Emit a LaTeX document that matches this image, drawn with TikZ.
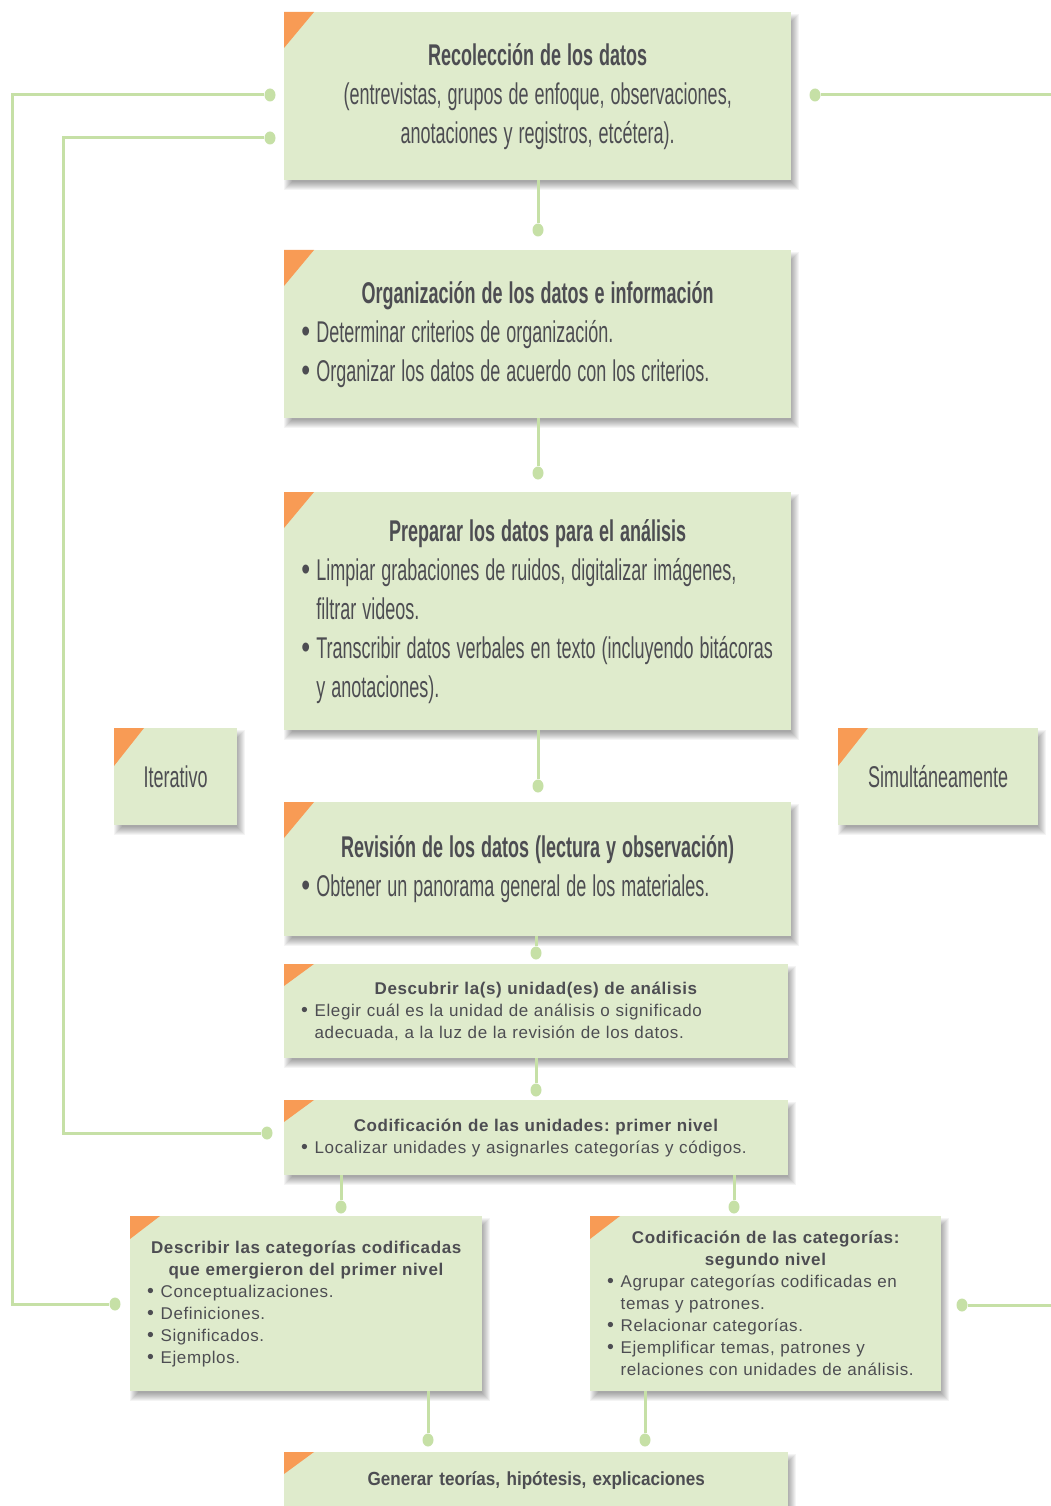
\documentclass[tikz,border=0pt]{standalone}
\usepackage{fontspec}
\usepackage{graphicx}
\setmainfont{Liberation Sans}
\newfontfamily\smallf[LetterSpace=3.5]{Liberation Sans}
\newfontfamily\medf[FakeStretch=0.9]{Liberation Sans}
\usetikzlibrary{backgrounds,shapes.geometric}
\frenchspacing

\definecolor{boxfill}{HTML}{DFEBCC}
\definecolor{cornerc}{HTML}{F89B55}
\definecolor{linkc}{HTML}{C6E0A6}
\definecolor{txt}{HTML}{4D4D52}

\newcommand{\bigfont}{\fontsize{30}{39}\selectfont}
\newcommand{\smallfont}{\smallf\fontsize{17}{22}\selectfont}
\newcommand{\medfont}{\medf\bfseries\fontsize{19}{22}\selectfont}

% bullet lines for the large and the small cards
\newcommand{\bigdot}{\scalebox{1.4}[1.1]{\textbullet}}
\newcommand{\bitem}[1]{\mbox{\makebox[25pt][l]{\bigdot}#1}}
\newcommand{\bcont}[1]{\mbox{\hspace*{25pt}#1}}
\newcommand{\sitem}[1]{\mbox{\makebox[13.5pt][l]{\scalebox{1.15}{\textbullet}}#1}}
\newcommand{\scont}[1]{\mbox{\hspace*{13.5pt}#1}}
% orange flag in the top left corner of a card
\newcommand{\cardflag}[2]{\fill[cornerc] (#1.north west) -- ++(30,0) -- ++(-30,#2) -- cycle;}
% soft shadow below and to the right of a card, built from stacked translucent layers
\newcommand{\cardshadow}[1]{%
  \begin{scope}[on background layer]
    \foreach \s in {0,...,8}
      \fill[black, opacity=0.045] ([shift={(\s,2+\s)}]#1.north west)
        rectangle ([shift={(8-\s,10-\s)}]#1.south east);
  \end{scope}}

\tikzset{
  card/.style={fill=boxfill, draw=none, anchor=north west, inner xsep=17pt,
    inner ysep=0pt, text=txt, align=left},
  % condensed lettering: the text node is squeezed horizontally
  condtext/.style={xscale=0.6, font=\bigfont, text=txt, align=left, inner sep=0pt},
  smalltext/.style={font=\smallfont},
  link/.style={draw=linkc, line width=3pt},
  knob/.style={ellipse, fill=linkc, inner sep=0pt, minimum width=11pt, minimum height=13pt},
}

\begin{document}
\begin{tikzpicture}[x=1pt,y=-1pt]
\useasboundingbox (0,0) rectangle (1051,1506);
\begin{scope}[on background layer]
  \fill[white] (0,0) rectangle (1051,1506);
\end{scope}

% main column of cards
\node[card, minimum width=507pt, minimum height=168pt] (b1) at (284,12) {};
\node[condtext, text width=788pt] (t1) at (b1.center)
  {{\centering\textbf{Recolección de los datos}\\
   (entrevistas, grupos de enfoque, observaciones,\\
   anotaciones y registros, etcétera).\par}};
\cardflag{b1}{36}\cardshadow{b1}

\node[card, minimum width=507pt, minimum height=168pt] (b2) at (284,250) {};
\node[condtext, text width=788pt] (t2) at (b2.center)
  {{\centering\textbf{Organización de los datos e información}\par}
   \bitem{Determinar criterios de organización.}\\
   \bitem{Organizar los datos de acuerdo con los criterios.}};
\cardflag{b2}{36}\cardshadow{b2}

\node[card, minimum width=507pt, minimum height=238pt] (b3) at (284,492) {};
\node[condtext, text width=788pt] (t3) at (b3.center)
  {{\centering\textbf{Preparar los datos para el análisis}\par}
   \bitem{Limpiar grabaciones de ruidos, digitalizar imágenes,}\\
   \bcont{filtrar videos.}\\
   \bitem{Transcribir datos verbales en texto (incluyendo bitácoras}\\
   \bcont{y anotaciones).}};
\cardflag{b3}{36}\cardshadow{b3}

\node[card, minimum width=507pt, minimum height=134pt] (b4) at (284,802) {};
\node[condtext, text width=788pt] (t4) at (b4.center)
  {{\centering\textbf{Revisión de los datos (lectura y observación)}\par}
   \bitem{Obtener un panorama general de los materiales.}};
\cardflag{b4}{36}\cardshadow{b4}

\node[card, smalltext, text width=470pt, minimum height=94pt] (b5) at (284,964)
  {{\centering\textbf{Descubrir la(s) unidad(es) de análisis}\par}
   \sitem{Elegir cuál es la unidad de análisis o significado}\\
   \scont{adecuada, a la luz de la revisión de los datos.}};
\cardflag{b5}{22}\cardshadow{b5}

\node[card, smalltext, text width=470pt, minimum height=75pt] (b6) at (284,1100)
  {{\centering\textbf{Codificación de las unidades: primer nivel}\par}
   \sitem{Localizar unidades y asignarles categorías y códigos.}};
\cardflag{b6}{22}\cardshadow{b6}

\node[card, smalltext, text width=318pt, minimum height=175pt] (b7) at (130,1216)
  {{\centering\textbf{Describir las categorías codificadas\\
    que emergieron del primer nivel}\par}
   \sitem{Conceptualizaciones.}\\
   \sitem{Definiciones.}\\
   \sitem{Significados.}\\
   \sitem{Ejemplos.}};
\cardflag{b7}{23}\cardshadow{b7}

\node[card, smalltext, text width=317pt, minimum height=175pt] (b8) at (590,1216)
  {{\centering\textbf{Codificación de las categorías:\\ segundo nivel}\par}
   \sitem{Agrupar categorías codificadas en}\\
   \scont{temas y patrones.}\\
   \sitem{Relacionar categorías.}\\
   \sitem{Ejemplificar temas, patrones y}\\
   \scont{relaciones con unidades de análisis.}};
\cardflag{b8}{23}\cardshadow{b8}

\node[card, font=\medfont, text width=470pt, minimum height=56pt] (b9) at (284,1452)
  {{\centering Generar teorías, hipótesis, explicaciones\par}};
\cardflag{b9}{22}\cardshadow{b9}

% side labels
\node[card, minimum width=123pt, minimum height=97pt] (it) at (114,728) {};
\node[condtext] (ti) at (it.center) {Iterativo};
\cardflag{it}{38}\cardshadow{it}
\node[card, minimum width=200pt, minimum height=97pt] (si) at (838,728) {};
\node[condtext] (ts) at (si.center) {Simultáneamente};
\cardflag{si}{38}\cardshadow{si}

% connector ends
\node[knob] (d1) at (538,230) {};
\node[knob] (d2) at (538,473) {};
\node[knob] (d3) at (538,786) {};
\node[knob] (d4) at (536,953) {};
\node[knob] (d5) at (536,1090) {};
\node[knob] (d6) at (341,1207) {};
\node[knob] (d7) at (734,1207) {};
\node[knob] (d8) at (428,1440) {};
\node[knob] (d9) at (645,1440) {};
\node[knob] (dL1) at (270,95) {};
\node[knob] (dL2) at (115,1304) {};
\node[knob] (dL3) at (270,138) {};
\node[knob] (dL4) at (267,1133) {};
\node[knob] (dR1) at (815,95) {};
\node[knob] (dR2) at (962,1305) {};
\coordinate (cL1) at (12,95);
\coordinate (cL3) at (63,138);
\coordinate (eR1) at (1060,95);
\coordinate (eR2) at (1060,1305);

\begin{scope}[on background layer]
  \draw[link] (d1 |- b1.south) -- (d1);
  \draw[link] (d2 |- b2.south) -- (d2);
  \draw[link] (d3 |- b3.south) -- (d3);
  \draw[link] (d4 |- b4.south) -- (d4);
  \draw[link] (d5 |- b5.south) -- (d5);
  \draw[link] (d6 |- b6.south) -- (d6);
  \draw[link] (d7 |- b6.south) -- (d7);
  \draw[link] (d8 |- b7.south) -- (d8);
  \draw[link] (d9 |- b8.south) -- (d9);
  \draw[link] (dL1) -- (cL1) |- (dL2);
  \draw[link] (dL3) -- (cL3) |- (dL4);
  \draw[link] (dR1) -- (eR1);
  \draw[link] (dR2) -- (eR2);
\end{scope}
\end{tikzpicture}
\end{document}
